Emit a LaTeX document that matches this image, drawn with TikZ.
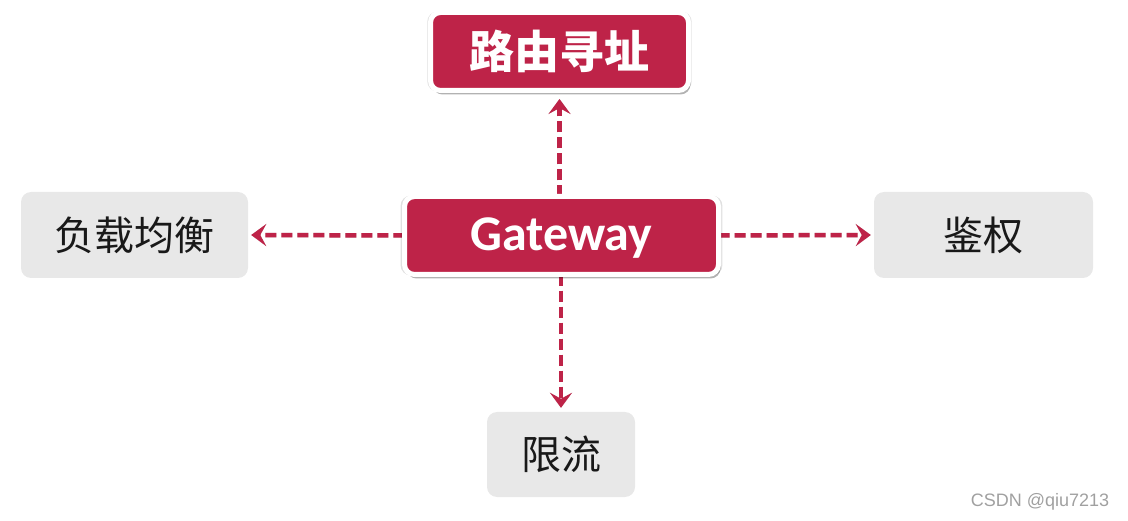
\documentclass[tikz,border=0pt]{standalone}
\usepackage{fontspec}
\setmainfont{Noto Sans CJK SC}
\newfontfamily\cjk{Noto Sans CJK SC}
\newfontfamily\latinb{Carlito}
\newfontfamily\wmfont{Liberation Sans}
\usetikzlibrary{arrows.meta,shadows}
\definecolor{gwred}{RGB}{190,35,72}
\definecolor{boxgray}{RGB}{232,232,232}
\definecolor{wmgray}{RGB}{160,160,160}
\tikzset{
  redbox/.style={fill=gwred, draw=white, line width=5pt, rounded corners=10pt,
    inner sep=0pt, text=white,
    general shadow={fill=black, opacity=0.12, shadow xshift=0pt, shadow yshift=0pt, shadow scale=1.025},
    general shadow={fill=black, opacity=0.3, shadow xshift=2pt, shadow yshift=-4pt}},
  graybox/.style={fill=boxgray, rounded corners=10pt, inner sep=0pt, text=black!90,
    font=\cjk\fontsize{40}{44}\selectfont},
  flow/.style={draw=gwred, line width=4.5pt, dash pattern=on 11pt off 5pt,
    -{Stealth[length=15pt, width=22pt, inset=6pt]}},
  flowshadow/.style={draw=black, opacity=0.18, line width=4.5pt, dash pattern=on 11pt off 5pt,
    -{Stealth[length=15pt, width=22pt, inset=6pt]}}
}
\begin{document}
\begin{tikzpicture}[x=1pt,y=-1pt]
\useasboundingbox (0,0) rectangle (1128,521);
\node[graybox, minimum width=227pt, minimum height=86pt] (lb) at (134.5,235) {负载均衡};
\node[graybox, minimum width=219pt, minimum height=86pt] (auth) at (983.5,235) {鉴权};
\node[graybox, minimum width=148pt, minimum height=85pt] (rl) at (561,454.5) {限流};
\node[redbox, minimum width=258pt, minimum height=78pt, font=\cjk\bfseries\fontsize{45}{50}\selectfont] (route) at (559.5,51.5) {路由寻址};
\coordinate (gwc) at (561.5,235.5);
\node[minimum width=314pt, minimum height=78pt, inner sep=0pt] (gw) at (gwc) {};
% arrow shadows
\begin{scope}[xshift=1.5pt, yshift=-2pt]
\draw[flowshadow, shorten >=6pt] (gw.north -| route.south) -- (route.south);
\draw[flowshadow, shorten >=3pt] (gw.west) -- (lb.east);
\draw[flowshadow, shorten >=3pt] (gw.east) -- (auth.west);
\draw[flowshadow, shorten >=4pt] (gw.south -| rl.north) -- (rl.north);
\end{scope}
\draw[flow, shorten >=6pt] (gw.north -| route.south) -- (route.south);
\draw[flow, shorten >=3pt] (gw.west) -- (lb.east);
\draw[flow, shorten >=3pt] (gw.east) -- (auth.west);
\draw[flow, shorten >=4pt] (gw.south -| rl.north) -- (rl.north);
\node[redbox, minimum width=314pt, minimum height=78pt] (gwbox) at (gwc) {};
\node[text=white, inner sep=0pt, font=\latinb\bfseries\fontsize{50}{56}\selectfont] (gwtext) at (561.5,238) {Gateway};
\node[text=wmgray, font=\wmfont\fontsize{18}{20}\selectfont, inner sep=0pt] (wm) at (1040,502) {CSDN @qiu7213};
\end{tikzpicture}
\end{document}
